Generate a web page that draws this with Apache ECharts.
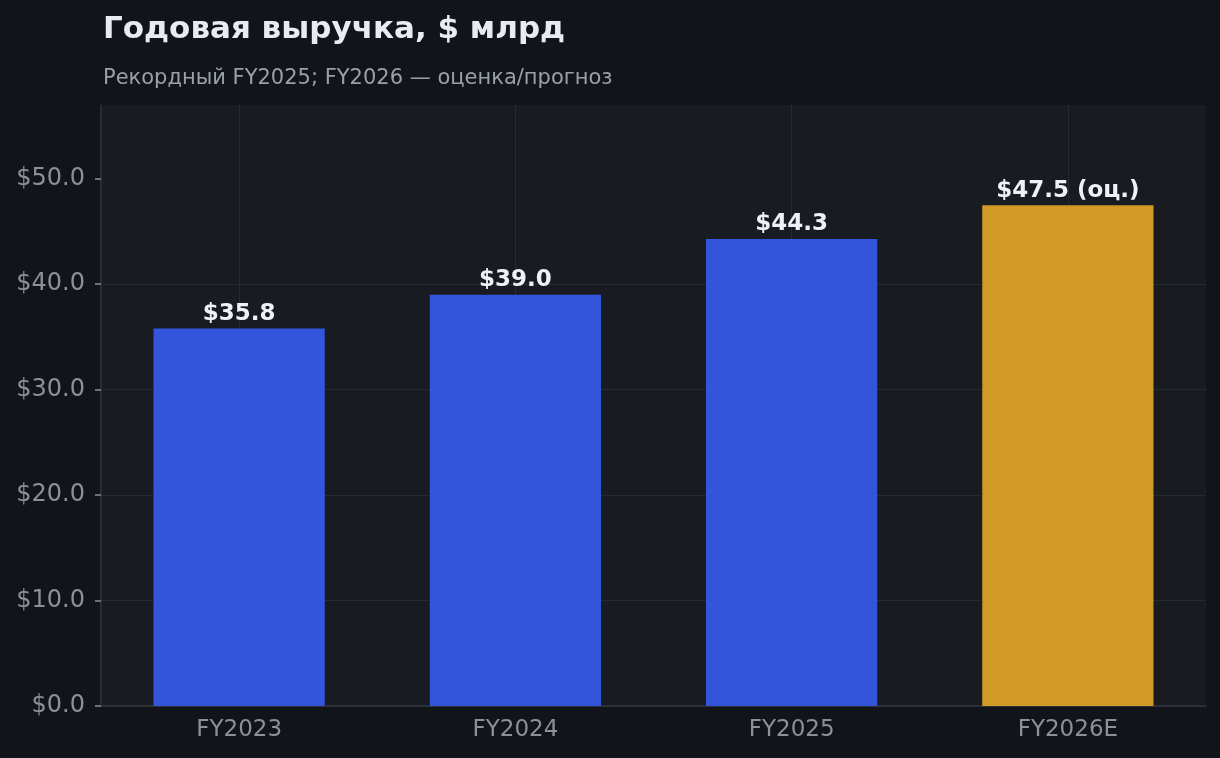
<!DOCTYPE html>
<html>
<head>
<meta charset="UTF-8">
<title>Годовая выручка</title>
<script src="https://cdn.jsdelivr.net/npm/echarts@6/dist/echarts.min.js"></script>
<style>
  html, body { margin: 0; padding: 0; background: #111418; }
  #chart { width: 1220px; height: 758px; }
</style>
</head>
<body>
<div id="chart"></div>
<script>
// данные
var years = ['FY2023', 'FY2024', 'FY2025', 'FY2026E'];
var revenue = [35.8, 39.0, 44.3, 47.5];
var isEstimate = [false, false, false, true];
var yTicks = [0, 10, 20, 30, 40, 50];

var BLUE = '#3355dc';
var GOLD = '#d19a24';

var chart = echarts.init(document.getElementById('chart'));

chart.setOption({
  backgroundColor: '#111418',
  animation: false,
  title: {
    text: 'Годовая выручка, $ млрд',
    subtext: 'Рекордный FY2025; FY2026 — оценка/прогноз',
    left: 98,
    top: 9,
    itemGap: 23,
    textStyle: { color: '#e8ecf2', fontSize: 31, fontWeight: 'bold', fontFamily: 'DejaVu Sans' },
    subtextStyle: { color: '#9aa0a9', fontSize: 21, fontFamily: 'DejaVu Sans' }
  },
  grid: {
    left: 101, right: 14, top: 105, bottom: 52,
    show: true, backgroundColor: '#181b22', borderWidth: 0
  },
  xAxis: {
    type: 'category',
    data: years,
    axisLine: { lineStyle: { color: '#30343d', width: 1.5 } },
    axisTick: { alignWithLabel: true, length: 6, lineStyle: { color: '#8b9099', width: 1.5 } },
    axisLabel: { color: '#8b9099', fontSize: 23, fontFamily: 'DejaVu Sans', margin: 13 },
    splitLine: { show: false }
  },
  yAxis: {
    type: 'value',
    min: 0, max: 57, interval: 10,
    axisLine: { show: true, lineStyle: { color: '#30343d', width: 1.5 } },
    axisTick: { show: true, length: 6, customValues: yTicks, lineStyle: { color: '#8b9099', width: 1.5 } },
    axisLabel: {
      color: '#8b9099', fontSize: 24, fontFamily: 'DejaVu Sans', margin: 16,
      customValues: yTicks,
      formatter: function (v) { return '$' + v.toFixed(1); }
    },
    splitLine: { show: true, showMaxLine: false, lineStyle: { color: '#262a33', width: 1 } }
  },
  series: [{
    type: 'bar',
    barWidth: '62%',
    data: revenue.map(function (v, i) {
      return { value: v, itemStyle: { color: isEstimate[i] ? GOLD : BLUE } };
    }),
    label: {
      show: true,
      position: 'top',
      distance: 3,
      color: '#eef1f6',
      fontSize: 23,
      fontWeight: 'bold',
      fontFamily: 'DejaVu Sans',
      formatter: function (p) {
        return '$' + p.value.toFixed(1) + (isEstimate[p.dataIndex] ? ' (оц.)' : '');
      }
    },
    markLine: {
      silent: true,
      z: 1,
      symbol: 'none',
      label: { show: false },
      lineStyle: { color: '#262a33', width: 1, type: 'solid' },
      data: years.map(function (c) { return { xAxis: c }; })
    }
  }]
});
</script>
</body>
</html>
